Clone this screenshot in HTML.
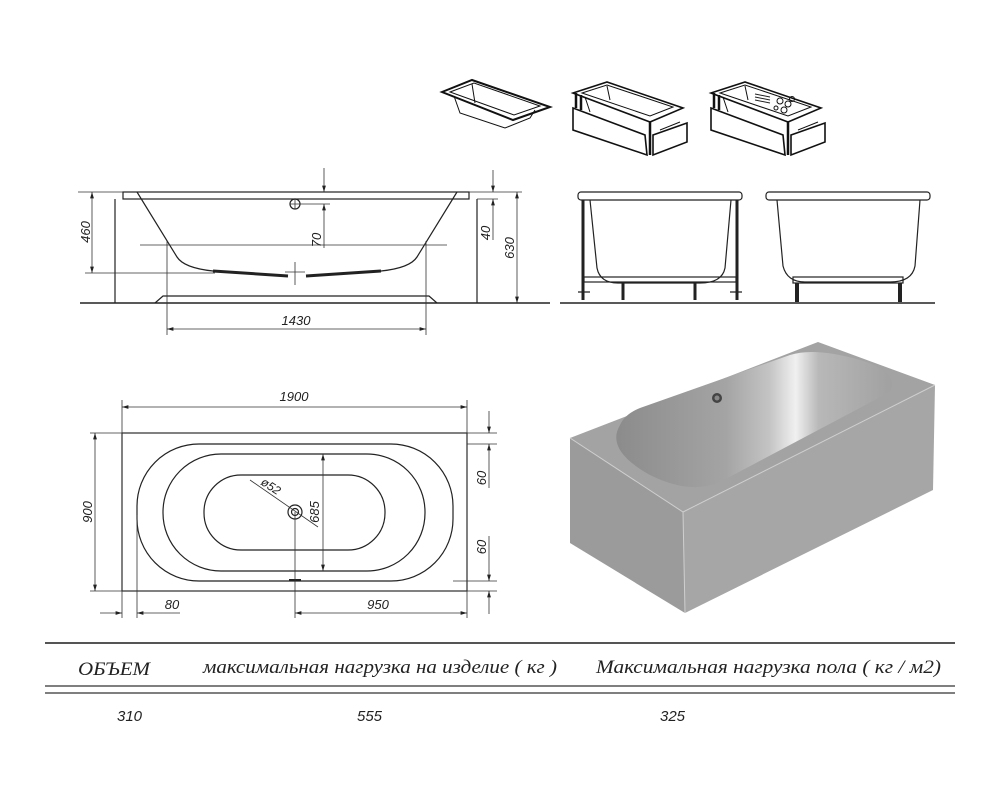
<!DOCTYPE html>
<html><head><meta charset="utf-8"><style>
html,body{margin:0;padding:0;background:#fff;}
svg{display:block}
text{font-family:"Liberation Sans",sans-serif;font-style:italic;fill:#222}
.s{fill:none;stroke:#222;stroke-width:1.2}
.t{fill:none;stroke:#333;stroke-width:0.8}
.k{fill:none;stroke:#111;stroke-width:2}
</style></head><body>
<svg width="1000" height="800" viewBox="0 0 1000 800" xmlns="http://www.w3.org/2000/svg">
<defs>
<marker id="a" viewBox="0 0 10 6" refX="10" refY="3" markerWidth="8" markerHeight="5" orient="auto-start-reverse"><path d="M0,0 L10,3 L0,6 z" fill="#222"/></marker>
<linearGradient id="bg" gradientUnits="userSpaceOnUse" x1="610" y1="0" x2="900" y2="0">
<stop offset="0" stop-color="#8a8a8a"/><stop offset="0.4" stop-color="#a4a4a4"/><stop offset="0.55" stop-color="#c4c4c4"/><stop offset="0.64" stop-color="#f0f0f0"/><stop offset="0.72" stop-color="#b8b8b8"/><stop offset="1" stop-color="#9e9e9e"/></linearGradient>
</defs>

<!-- isometric icons -->
<g class="k" stroke-width="1.6">
<polygon points="442,92 472,80 550,107 513,120"/>
<polygon points="450,92 474,83 540,106 514,115" stroke-width="1"/>
<path d="M454,96 L460,113 L505,128 L530,118 L535,110" stroke-width="1"/>
<path d="M472,84 L475,103" stroke-width="1"/>
</g>
<g id="ic" stroke="#111" fill="none" stroke-width="1.6">
<polygon points="573,93 607,82 683,108 650,122" fill="#fff"/>
<polygon points="582,93 607,85 673,107 650,116" stroke-width="1"/>
<path d="M585,97 L590,112 M607,86 L610,100" stroke-width="1"/>
<polygon points="573,108 645,135 647,155 573,130" fill="#fff"/>
<polygon points="653,135 687,123 687,142 653,155" fill="#fff"/>
<path d="M576,93 L576,108 M581,95 L581,110 M650,122 L650,155" stroke-width="2.5"/>
<path d="M660,130 L680,122" stroke-width="1"/>
</g>
<use href="#ic" x="138"/>
<g stroke="#222" stroke-width="1"><path d="M755,94 L770,97 M755,97 L770,100 M755,100 L770,103"/></g>
<g fill="none" stroke="#111"><circle cx="780" cy="101" r="3"/><circle cx="788" cy="104" r="3"/><circle cx="784" cy="110" r="3"/><circle cx="792" cy="99" r="2.5"/><circle cx="776" cy="108" r="2"/></g>

<!-- side view -->
<g class="s">
<rect x="123" y="192" width="346" height="7"/>
<path d="M137,192 L177,257 Q184,268 213,271 L240,273 M457,192 L417,257 Q410,268 381,271 L354,273"/>
<path d="M213,271 L288,276 M381,271 L306,276" stroke-width="3"/>
<path d="M115,199 L115,303 M477,199 L477,303"/>
<path d="M155,303 L163,296 L429,296 L437,303"/>
<path d="M80,303 L550,303" stroke-width="1.5"/>
<circle cx="295" cy="204" r="5"/>
</g>
<g class="t">
<path d="M78,192 L123,192 M85,273 L215,273"/>
<path d="M92,192 L92,273" marker-start="url(#a)" marker-end="url(#a)"/>
<path d="M140,245 L447,245 M167,241 L167,335 M426,241 L426,335"/>
<path d="M167,329 L426,329" marker-start="url(#a)" marker-end="url(#a)"/>
<path d="M300,204 L330,204 M290,204 L300,204 M295,199 L295,209"/>
<path d="M324,168 L324,192" marker-end="url(#a)"/>
<path d="M324,248 L324,204" marker-end="url(#a)"/>
<path d="M295,262 L295,285 M285,272 L305,272"/>
<path d="M469,192 L522,192 M477,199 L498,199"/>
<path d="M493,170 L493,192" marker-end="url(#a)"/>
<path d="M493,240 L493,199" marker-end="url(#a)"/>
<path d="M517,192 L517,303" marker-start="url(#a)" marker-end="url(#a)"/>
</g>
<text x="0" y="0" font-size="13" transform="translate(90,232) rotate(-90)" text-anchor="middle">460</text>
<text x="0" y="0" font-size="13" transform="translate(321,240) rotate(-90)" text-anchor="middle">70</text>
<text x="0" y="0" font-size="13" transform="translate(490,233) rotate(-90)" text-anchor="middle">40</text>
<text x="0" y="0" font-size="13" transform="translate(514,248) rotate(-90)" text-anchor="middle">630</text>
<text x="296" y="325" font-size="13" text-anchor="middle">1430</text>

<!-- right side views -->
<g class="s">
<path d="M560,303 L935,303" stroke-width="1.5"/>
<rect x="578" y="192" width="164" height="8" rx="3"/>
<path d="M590,200 L597,268 Q600,283 618,283 L700,283 Q722,283 725,268 L731,200"/>
<path d="M583,200 L583,300 M737,200 L737,300" stroke-width="3"/>
<rect x="584" y="277" width="152" height="5"/>
<path d="M623,282 L623,300 M695,282 L695,300" stroke-width="3"/>
<path d="M578,292 L590,292 M730,292 L742,292"/>
<rect x="766" y="192" width="164" height="8" rx="3"/>
<path d="M777,200 L783,266 Q787,282 805,282 L890,282 Q912,282 915,266 L920,200"/>
<rect x="793" y="277" width="110" height="6"/>
<path d="M797,283 L797,302 M900,283 L900,302" stroke-width="4"/>
</g>

<!-- top view -->
<g class="s">
<rect x="122" y="433" width="345" height="158"/>
<rect x="137" y="444" width="316" height="137" rx="62"/>
<rect x="163" y="454" width="262" height="117" rx="58"/>
<rect x="204" y="475" width="181" height="75" rx="37"/>
<circle cx="295" cy="512" r="7"/><circle cx="295" cy="512" r="3.5"/>
<path d="M289,580 L301,580" stroke-width="2"/>
</g>
<g class="t">
<path d="M90,433 L497,433 M90,591 L497,591 M122,400 L122,618 M467,400 L467,618"/>
<path d="M122,407 L467,407" marker-start="url(#a)" marker-end="url(#a)"/>
<path d="M95,433 L95,591" marker-start="url(#a)" marker-end="url(#a)"/>
<path d="M323,454 L323,571" marker-start="url(#a)" marker-end="url(#a)"/>
<path d="M250,480 L318,527"/>
<path d="M467,444 L497,444 M453,581 L497,581"/>
<path d="M489,411 L489,433" marker-end="url(#a)"/>
<path d="M489,488 L489,444" marker-end="url(#a)"/>
<path d="M489,536 L489,581" marker-end="url(#a)"/>
<path d="M489,614 L489,591" marker-end="url(#a)"/>
<path d="M137,515 L137,618 M295,512 L295,618"/>
<path d="M100,613 L122,613" marker-end="url(#a)"/>
<path d="M180,613 L137,613" marker-end="url(#a)"/>
<path d="M295,613 L467,613" marker-start="url(#a)" marker-end="url(#a)"/>
</g>
<text x="294" y="401" font-size="13" text-anchor="middle">1900</text>
<text font-size="13" transform="translate(92,512) rotate(-90)" text-anchor="middle">900</text>
<text font-size="13" transform="translate(319,512) rotate(-90)" text-anchor="middle">685</text>
<text font-size="12" transform="translate(260,484) rotate(33)">ø52</text>
<text font-size="13" transform="translate(486,478) rotate(-90)" text-anchor="middle">60</text>
<text font-size="13" transform="translate(486,547) rotate(-90)" text-anchor="middle">60</text>
<text x="172" y="609" font-size="13" text-anchor="middle">80</text>
<text x="378" y="609" font-size="13" text-anchor="middle">950</text>

<!-- 3D render -->
<polygon points="570,438 683,512 685,613 570,543" fill="#9b9b9b"/>
<polygon points="683,512 935,385 933,490 685,613" fill="#a6a6a6"/>
<polygon points="570,438 818,342 935,385 683,512" fill="#a3a3a3"/>
<path d="M570,438 L683,512 L935,385 M683,512 L685,613" stroke="#cfcfcf" stroke-width="1" fill="none"/>
<path d="M640,408 L790,355 Q815,347 860,360 Q900,372 890,392 L720,482 Q690,495 650,475 Q605,450 620,425 Q625,414 640,408 Z" fill="url(#bg)"/>
<circle cx="717" cy="398" r="5" fill="#444"/><circle cx="717" cy="398" r="2.5" fill="#888"/>

<!-- table -->
<path d="M45,643 L955,643" stroke="#555" stroke-width="2"/>
<path d="M45,686 L955,686 M45,693 L955,693" stroke="#555" stroke-width="1.5"/>
<g font-size="19">
<text x="78" y="675" style="font-family:'Liberation Serif',serif" textLength="72" lengthAdjust="spacingAndGlyphs">ОБЪЕМ</text>
<text x="203" y="673" style="font-family:'Liberation Serif',serif" textLength="354" lengthAdjust="spacingAndGlyphs">максимальная нагрузка на изделие ( кг )</text>
<text x="596" y="673" style="font-family:'Liberation Serif',serif" textLength="345" lengthAdjust="spacingAndGlyphs">Максимальная нагрузка пола ( кг / м2)</text>
</g>
<text x="117" y="721" font-size="15">310</text>
<text x="357" y="721" font-size="15">555</text>
<text x="660" y="721" font-size="15">325</text>
</svg>
</body></html>
